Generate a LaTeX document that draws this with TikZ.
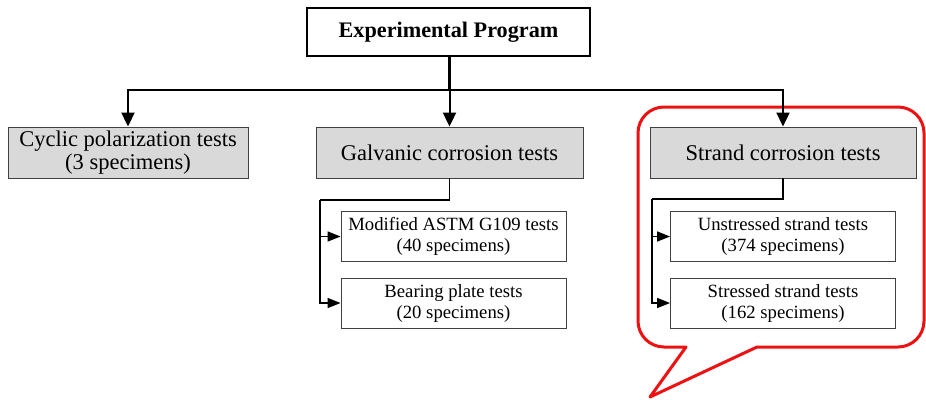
\documentclass[tikz,border=0pt]{standalone}
\usepackage{fontspec}
\setmainfont{Liberation Serif}
\usetikzlibrary{arrows.meta,positioning}
\definecolor{boxgray}{HTML}{D9D9D9}
\definecolor{calloutred}{HTML}{EE1111}

\begin{document}
\begin{tikzpicture}[
    x=1pt, y=-1pt,
    main/.style={draw, line width=2.2pt, fill=white, minimum width=283pt, minimum height=48pt, font=\fontsize{22.2}{24}\selectfont\bfseries},
    group/.style={draw=black!75, line width=0.9pt, fill=boxgray, minimum height=51pt, inner sep=0pt, align=center, font=\fontsize{22.5}{23.5}\selectfont},
    sub/.style={draw=black!75, line width=0.9pt, fill=white, minimum width=225pt, minimum height=50pt, inner sep=0pt, align=center, font=\fontsize{18.7}{21}\selectfont},
    arrow/.style={-{Triangle[length=14pt,width=13pt]}, line width=2pt},
    subarrow/.style={-{Triangle[length=13pt,width=10pt]}, line width=1.4pt},
    link/.style={line width=1.4pt}
  ]
  \useasboundingbox (0,0) rectangle (926,402);

  % Callout
  \draw[calloutred, line width=3pt, line join=round] (757,347) [rounded corners=26pt] -- (924,347) -- (924,107) -- (638,107) -- (638,347) [sharp corners] -- (686,347) -- (650,397) -- cycle;

  % Boxes
  \node[main] (prog) at (448.5,32) {Experimental Program};
  \node[group, minimum width=240pt] (cyclic) at (128,152.5) {Cyclic polarization tests\\(3 specimens)};
  \node[group, minimum width=267pt] (galv) at (449.5,152.5) {Galvanic corrosion tests};
  \node[group, minimum width=266pt] (strand) at (783,152.5) {Strand corrosion tests};

  \node[sub] (astm) at (453.5,236.5) {Modified ASTM G109 tests\\(40 specimens)};
  \node[sub] (plate) at (453.5,303) {Bearing plate tests\\(20 specimens)};
  \node[sub] (unstr) at (783,236.5) {Unstressed strand tests\\(374 specimens)};
  \node[sub] (stress) at (783,303) {Stressed strand tests\\(162 specimens)};

  % Top level connectors
  \coordinate (bus) at (449.5,90);
  \draw[line width=2.6pt] (prog.south -| bus) -- (bus);
  \draw[arrow] (bus) -| (cyclic.north);
  \draw[arrow] (bus) -| (strand.north);
  \draw[arrow] (bus) -- (galv.north);

  % Sub connectors
  \coordinate (gsplit) at (320,200);
  \coordinate (ssplit) at (652,199);
  \draw[link] (galv.south) |- (gsplit);
  \draw[subarrow] (gsplit) |- (astm.west);
  \draw[subarrow] (gsplit) |- (plate.west);
  \draw[link] (strand.south) |- (ssplit);
  \draw[subarrow] (ssplit) |- (unstr.west);
  \draw[subarrow] (ssplit) |- (stress.west);

\end{tikzpicture}
\end{document}
